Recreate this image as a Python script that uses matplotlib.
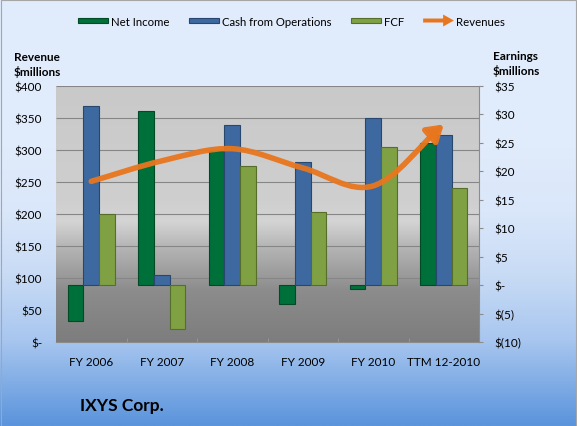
import numpy as np
import matplotlib
matplotlib.use('Agg')
import matplotlib.pyplot as plt
import matplotlib.patches as patches
import matplotlib.transforms as mtransforms
from matplotlib.path import Path
from matplotlib.colors import LinearSegmentedColormap
from matplotlib.legend_handler import HandlerPatch

plt.rcParams.update({
    'font.family': ['Lato', 'DejaVu Sans'],
    'font.size': 8.5,
    'text.parse_math': False,
})

# Data (earnings on right axis, revenue on left axis, $ millions)
categories = ['FY 2006', 'FY 2007', 'FY 2008', 'FY 2009', 'FY 2010', 'TTM 12-2010']
net_income = [-6.3, 30.6, 23.5, -3.3, -0.6, 24.9]
cash_ops = [31.4, 1.8, 28.2, 21.7, 29.4, 26.4]
fcf = [12.5, -7.7, 20.9, 12.9, 24.3, 17.0]
revenues = [251, 283, 302, 272, 244, 340]

rev_ticks = [0, 50, 100, 150, 200, 250, 300, 350, 400]
rev_labels = ['$-', '$50', '$100', '$150', '$200', '$250', '$300', '$350', '$400']
earn_ticks = [-10, -5, 0, 5, 10, 15, 20, 25, 30, 35]
earn_labels = ['$(10)', '$(5)', '$-', '$5', '$10', '$15', '$20', '$25', '$30', '$35']

c_ni, e_ni = '#00703a', '#004a26'
c_cfo, e_cfo = '#3d69a0', '#28476e'
c_fcf, e_fcf = '#80a044', '#566e2c'
c_rev = '#e8761e'

W, H = 577, 427
fig = plt.figure(figsize=(W / 100, H / 100), dpi=100)

# background gradient of the whole chart
bg = fig.add_axes([0, 0, 1, 1], zorder=-10)
bg_cmap = LinearSegmentedColormap.from_list('bg', [
    (0.0, '#5a94dc'), (0.2, '#a8c6ef'), (0.35, '#c8dbf5'),
    (0.5, '#dae7fa'), (0.65, '#e0ebfb'), (1.0, '#e1ecfc')])
bg.imshow(np.linspace(0, 1, 256).reshape(-1, 1), aspect='auto', cmap=bg_cmap,
          origin='lower', extent=[0, 1, 0, 1])
bg.axis('off')
fig.add_artist(patches.Rectangle((0.001, 0.001), 0.997, 0.997, transform=fig.transFigure,
                                 fill=False, edgecolor='#a6a6a6', lw=0.8))

ax = fig.add_axes([56 / W, 1 - 343 / H, (479 - 56) / W, (343 - 87) / H])
ax2 = ax.twinx()

# plot area gradient
pa_cmap = LinearSegmentedColormap.from_list('pa', [
    (0.0, '#7d7d7d'), (0.2, '#8c8c8c'), (0.375, '#b6b6b6'),
    (0.47, '#d4d4d4'), (0.55, '#cfcfcf'), (1.0, '#c9c9c9')])
ax.imshow(np.linspace(0, 1, 256).reshape(-1, 1), aspect='auto', cmap=pa_cmap,
          origin='lower', extent=[0, 1, 0, 1], transform=ax.transAxes, zorder=0)

# gridlines follow the revenue axis
grid_tr = mtransforms.blended_transform_factory(ax.transAxes, ax2.transData)
ax.hlines(rev_ticks, 0, 1, transform=grid_tr, color='#868686', lw=0.8, zorder=1)

x = np.arange(len(categories))
w = 0.222
ax.bar(x - w, net_income, w, color=c_ni, edgecolor=e_ni, lw=0.8, zorder=2)
ax.bar(x, cash_ops, w, color=c_cfo, edgecolor=e_cfo, lw=0.8, zorder=2)
ax.bar(x + w, fcf, w, color=c_fcf, edgecolor=e_fcf, lw=0.8, zorder=2)

# smoothed revenue line with an arrow head
pts = np.column_stack([x, revenues]).astype(float)
ext = np.vstack([2 * pts[0] - pts[1], pts, 2 * pts[-1] - pts[-2]])
verts, codes = [pts[0]], [Path.MOVETO]
for i in range(len(pts) - 1):
    p0, p1, p2, p3 = ext[i], ext[i + 1], ext[i + 2], ext[i + 3]
    verts += [p1 + (p2 - p0) / 6, p2 - (p3 - p1) / 6, p2]
    codes += [Path.CURVE4] * 3
rev_line = patches.FancyArrowPatch(path=Path(verts, codes),
                                   arrowstyle='-|>,head_length=0.42,head_width=0.27',
                                   mutation_scale=22, color=c_rev, lw=4.0, alpha=0.95,
                                   transform=ax2.transData, zorder=3)
rev_line.set_capstyle('round')
ax2.add_patch(rev_line)

# axes setup
ax.set_xlim(-0.5, len(categories) - 0.5)
ax.set_ylim(-10, 35)
ax2.set_ylim(0, 400)
ax.set_xticks(x)
ax.set_xticklabels(categories)
ax.set_xticks(x[:-1] + 0.5, minor=True)
ax.tick_params(axis='x', which='major', length=0, pad=10)
ax.tick_params(axis='x', which='minor', length=3, color='#9a9a9a', direction='in')

ax.yaxis.tick_right()
ax.set_yticks(earn_ticks)
ax.set_yticklabels(earn_labels)
ax.tick_params(axis='y', length=3, color='#8c8c8c', pad=8)

ax2.yaxis.tick_left()
ax2.set_yticks(rev_ticks)
ax2.set_yticklabels(rev_labels)
ax2.tick_params(axis='y', length=0, pad=10)

for s in ['top', 'left']:
    ax.spines[s].set_visible(False)
for s in ['bottom', 'right']:
    ax.spines[s].set_color('#8c8c8c')
for s in ax2.spines.values():
    s.set_visible(False)

fig.text(14 / W, 1 - 65 / H, 'Revenue\n$millions', weight='bold', va='center', ha='left',
         linespacing=1.35)
fig.text(493 / W, 1 - 64 / H, 'Earnings\n$millions', weight='bold', va='center', ha='left',
         linespacing=1.35)
fig.text(80 / W, 1 - 406 / H, 'IXYS Corp.', weight='bold', fontsize=12.5, va='center')


# legend
def bar_key(legend, orig_handle, xdescent, ydescent, width, height, fontsize):
    return patches.Rectangle((-xdescent, -ydescent + height * 0.2), width, height * 0.6)


def arrow_key(legend, orig_handle, xdescent, ydescent, width, height, fontsize):
    return patches.FancyArrow(-xdescent, -ydescent + height / 2, width, 0,
                              width=height * 0.5, head_width=height * 1.5,
                              head_length=width * 0.35, length_includes_head=True)


h_ni = patches.Patch(facecolor=c_ni, edgecolor=e_ni, lw=0.8)
h_cfo = patches.Patch(facecolor=c_cfo, edgecolor=e_cfo, lw=0.8)
h_fcf = patches.Patch(facecolor=c_fcf, edgecolor=e_fcf, lw=0.8)
h_rev = patches.Patch(facecolor=c_rev, edgecolor='none')
bar_handler = HandlerPatch(patch_func=bar_key)
fig.legend([h_ni, h_cfo, h_fcf, h_rev], ['Net Income', 'Cash from Operations', 'FCF', 'Revenues'],
           loc='center', bbox_to_anchor=(0.505, 1 - 22 / H), ncol=4, frameon=False,
           fontsize=8.2, handlelength=2.7, handletextpad=0.2, columnspacing=1.7,
           handler_map={h_ni: bar_handler, h_cfo: bar_handler, h_fcf: bar_handler,
                        h_rev: HandlerPatch(patch_func=arrow_key)})

fig.savefig('out.png', dpi=100)
